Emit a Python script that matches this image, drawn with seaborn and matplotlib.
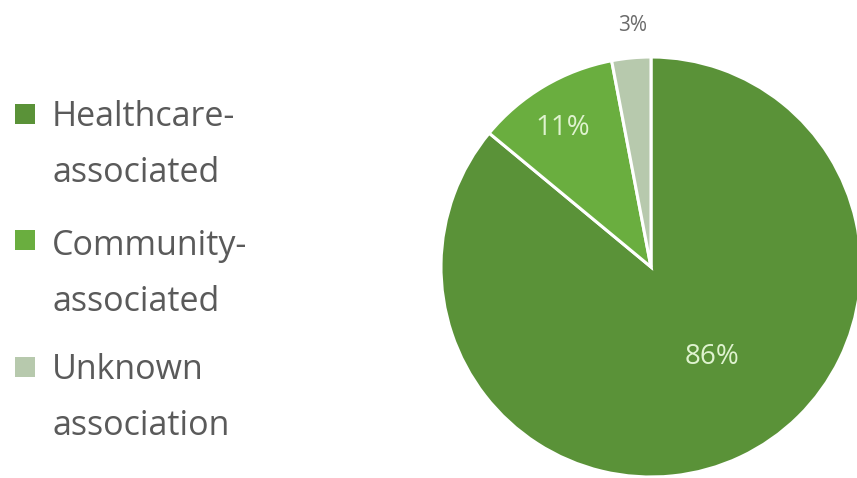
import matplotlib
matplotlib.use("Agg")
import matplotlib.pyplot as plt
from matplotlib.patches import Rectangle
import seaborn as sns

# Share of cases by association type
categories = ["Healthcare-\nassociated", "Community-\nassociated", "Unknown\nassociation"]
shares = [86, 11, 3]
slice_colors = ["#5a9238", "#6aae3f", "#b7c9ad"]
label_colors = ["#dff3cf", "#dff3cf", "#6b6b6b"]
label_sizes = [20, 20, 15]
# label anchor points in pie-radius units
label_xy = [(0.29, -0.43), (-0.42, 0.66), (-0.09, 1.15)]

sns.set_theme(style="white")
plt.rcParams["font.family"] = ["Open Sans", "DejaVu Sans"]

W, H = 857, 478
fig = plt.figure(figsize=(W / 100, H / 100), dpi=100)
fig.patch.set_facecolor("white")

# pie axes: centre at (651, 267) px from top-left, radius 210 px
cx, cy, r = 651, 267, 210
ax = fig.add_axes([(cx - r) / W, (H - cy - r) / H, 2 * r / W, 2 * r / H])
wedges, _texts, autotexts = ax.pie(
    shares,
    colors=slice_colors,
    startangle=90,
    counterclock=False,
    radius=1.0,
    autopct=lambda p: f"{p:.0f}%",
    wedgeprops=dict(edgecolor="white", linewidth=2.2),
)
ax.set_xlim(-1, 1)
ax.set_ylim(-1, 1)
ax.set_aspect("equal")
ax.axis("off")

for t, (x, y), c, s in zip(autotexts, label_xy, label_colors, label_sizes):
    t.set_position((x, y))
    t.set_color(c)
    t.set_fontsize(s)
    t.set_ha("center")
    t.set_va("center")

# legend: square swatch beside each two-line label
swatch_bottoms = [124, 250, 377]
last_baselines = [182, 311, 435]
for lab, col, yb, yl in zip(categories, slice_colors, swatch_bottoms, last_baselines):
    fig.patches.append(
        Rectangle((15 / W, (H - yb) / H), 20 / W, 20 / H,
                  transform=fig.transFigure, facecolor=col, edgecolor="none")
    )
    fig.text(52 / W, (H - yl) / H, lab, fontsize=24.5, color="#5a5a5a",
             ha="left", va="baseline", linespacing=1.86)

fig.savefig("out.png", dpi=100, facecolor="white")
